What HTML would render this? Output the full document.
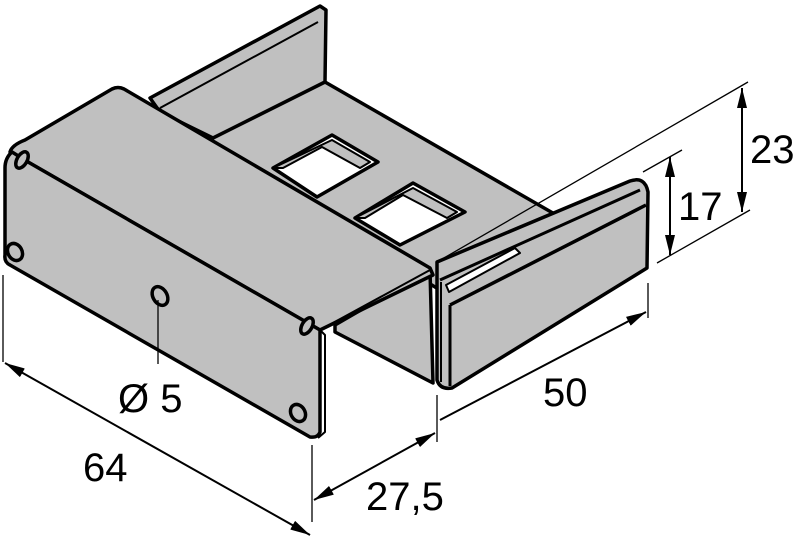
<!DOCTYPE html>
<html><head><meta charset="utf-8"><style>html,body{margin:0;padding:0;background:#fff}svg{display:block}</style></head>
<body>
<svg width="800" height="539" viewBox="0 0 800 539" xmlns="http://www.w3.org/2000/svg">
<defs>
<marker id="a" viewBox="0 0 20 10" refX="20" refY="5" markerWidth="20" markerHeight="10" orient="auto-start-reverse" markerUnits="userSpaceOnUse"><path d="M0,0 L20,5 L0,10 z" fill="#000"/></marker>
</defs>
<g stroke="#000" stroke-width="3.5" stroke-linejoin="round" fill="#c0c0c0">
<!-- rear wall -->
<polygon points="150,98 320,6 326,10 325,82 217,140 160,112"/>
<line x1="160" y1="108" x2="318" y2="22" stroke-width="2"/>
<!-- plate -->
<polygon points="205,142 325,82 565,220 560,226 440,290 300,205"/>
<!-- holes -->
<polygon points="332,135 378,162 317,197 273,168" fill="#fff"/>
<polygon points="332,140 370,162 360,168 322,147 283,168 273,168" fill="#c0c0c0" stroke-width="2"/>
<polygon points="413,183 465,212 400,245 355,218" fill="#fff"/>
<polygon points="413,188 457,212 447,218 403,195 365,218 355,218" fill="#c0c0c0" stroke-width="2"/>
<!-- right flange -->
<path d="M437,262 L630,181 Q645,176 648,192 L647,268 L452,388 Q440,390 437,380 Z"/>
<line x1="440" y1="280" x2="640" y2="190" stroke-width="3"/>
<line x1="450" y1="305" x2="646" y2="205" stroke-width="3.5"/>
<line x1="450" y1="305" x2="450" y2="386" stroke-width="3"/>
<line x1="441" y1="282" x2="441" y2="382" stroke-width="2"/>
<polygon points="446,285 515,248 520,253 449,292" fill="#fff" stroke-width="2"/>
<!-- inner wall of cover channel -->
<polygon points="335,325 430,270 433,383 335,332"/>
<!-- cover top -->
<path d="M10,152 Q12,145 25,140 L112,89 Q118,86 124,89 L430,268 L433,275 L320,330 L28,162 Z"/>
<!-- cover front -->
<path d="M28,162 L320,330 L320,432 Q318,438 310,437 L10,265 Q4,262 5,255 L5,168 Q5,158 12,152 Z"/>
<line x1="320" y1="330" x2="430" y2="270" stroke-width="2"/>
<path d="M320,330 L325,335 L325,432 L318,438" fill="none" stroke-width="2"/>
<!-- cover holes -->
<ellipse cx="22" cy="160" rx="5" ry="9" transform="rotate(30 22 160)"/>
<ellipse cx="15" cy="252" rx="7" ry="9" transform="rotate(-30 15 252)"/>
<ellipse cx="298" cy="413" rx="7" ry="9" transform="rotate(-30 298 413)"/>
<ellipse cx="307" cy="326" rx="5" ry="9" transform="rotate(30 307 326)"/>
<ellipse cx="160" cy="296" rx="7" ry="10" transform="rotate(-30 160 296)"/>
</g>
<g stroke="#000" stroke-width="1.3" fill="none">
<line x1="158" y1="300" x2="158" y2="364"/>
<line x1="437" y1="262" x2="748" y2="82"/>
<line x1="643" y1="172" x2="682" y2="150"/>
<line x1="657" y1="263" x2="750" y2="210"/>
<line x1="437" y1="395" x2="437" y2="442"/>
<line x1="648" y1="283" x2="648" y2="318"/>
<line x1="3" y1="275" x2="3" y2="362"/>
<line x1="312" y1="445" x2="312" y2="522"/>
</g>
<g stroke="#000" stroke-width="2" fill="none">
<line x1="742" y1="88" x2="742" y2="212" marker-start="url(#a)" marker-end="url(#a)"/>
<line x1="670" y1="157" x2="670" y2="255" marker-start="url(#a)" marker-end="url(#a)"/>
<line x1="440" y1="420" x2="646" y2="312" marker-end="url(#a)"/>
<line x1="314" y1="500" x2="435" y2="433" marker-start="url(#a)" marker-end="url(#a)"/>
<line x1="5" y1="363" x2="310" y2="535" marker-start="url(#a)" marker-end="url(#a)"/>
</g>
<g font-family="Liberation Sans, sans-serif" font-size="40" fill="#000">
<text x="750" y="163">23</text>
<text x="678" y="220">17</text>
<text x="543" y="406">50</text>
<text x="366" y="510">27,5</text>
<text x="83" y="481">64</text>
<text x="118" y="412">Ø 5</text>
</g>
</svg>
</body></html>
